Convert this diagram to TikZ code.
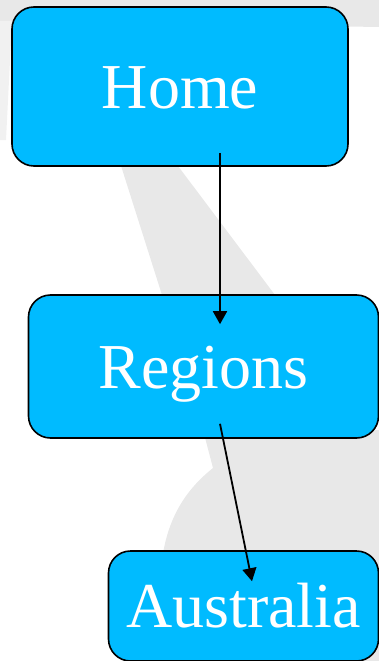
\documentclass[tikz,border=0pt]{standalone}
\usepackage{fontspec}
\setmainfont{Liberation Serif}
\usetikzlibrary{arrows.meta}

\definecolor{boxblue}{RGB}{0,187,255}
\definecolor{bggray}{RGB}{232,232,232}

\begin{document}
\begin{tikzpicture}[x=1pt,y=-1pt,
        page/.style={draw=black, line width=1.6pt, fill=boxblue, rounded corners=22pt,
            text=white, font=\fontsize{64}{64}\selectfont, inner sep=0pt,
            text height=43pt, text depth=0pt},
        link/.style={-{Triangle[length=13pt,width=14pt]}, line width=1.8pt}]
        % Fix the page size
        \useasboundingbox (0,0) rectangle (379,661);
        \clip (0,0) rectangle (379,661);

        % Faint shapes in the background
        \fill[bggray] (0,0) -- (379,0) -- (379,27) -- (0,21) -- cycle;
        \fill[bggray!60] (0,21) -- (12,21) -- (6,140) -- (0,140) -- cycle;
        \fill[bggray] (116,150) -- (166,150) -- (275,295) -- (162,295) -- cycle;
        \fill[bggray] (203,430) -- (213,468) .. controls (188,488) and (168,515) .. (162,560)
            -- (160,661) -- (379,661) -- (379,430) -- cycle;

        % Define the pages
        \node[page, minimum width=336pt, minimum height=159pt] (home) at (180,86.5) {Home};
        \node[page, minimum width=350pt, minimum height=143pt] (regions) at (203.5,366.5) {Regions};
        \node[page, minimum width=270pt, minimum height=110pt] (australia) at (243.5,606) {Australia};

        % Draw the links
        \draw[link] ([xshift=40pt,yshift=14pt]home.south) -- ([xshift=16.5pt,yshift=-30pt]regions.north);
        \draw[link] ([xshift=16.5pt,yshift=15pt]regions.south) -- ([xshift=8.5pt,yshift=-31pt]australia.north);
\end{tikzpicture}
\end{document}
